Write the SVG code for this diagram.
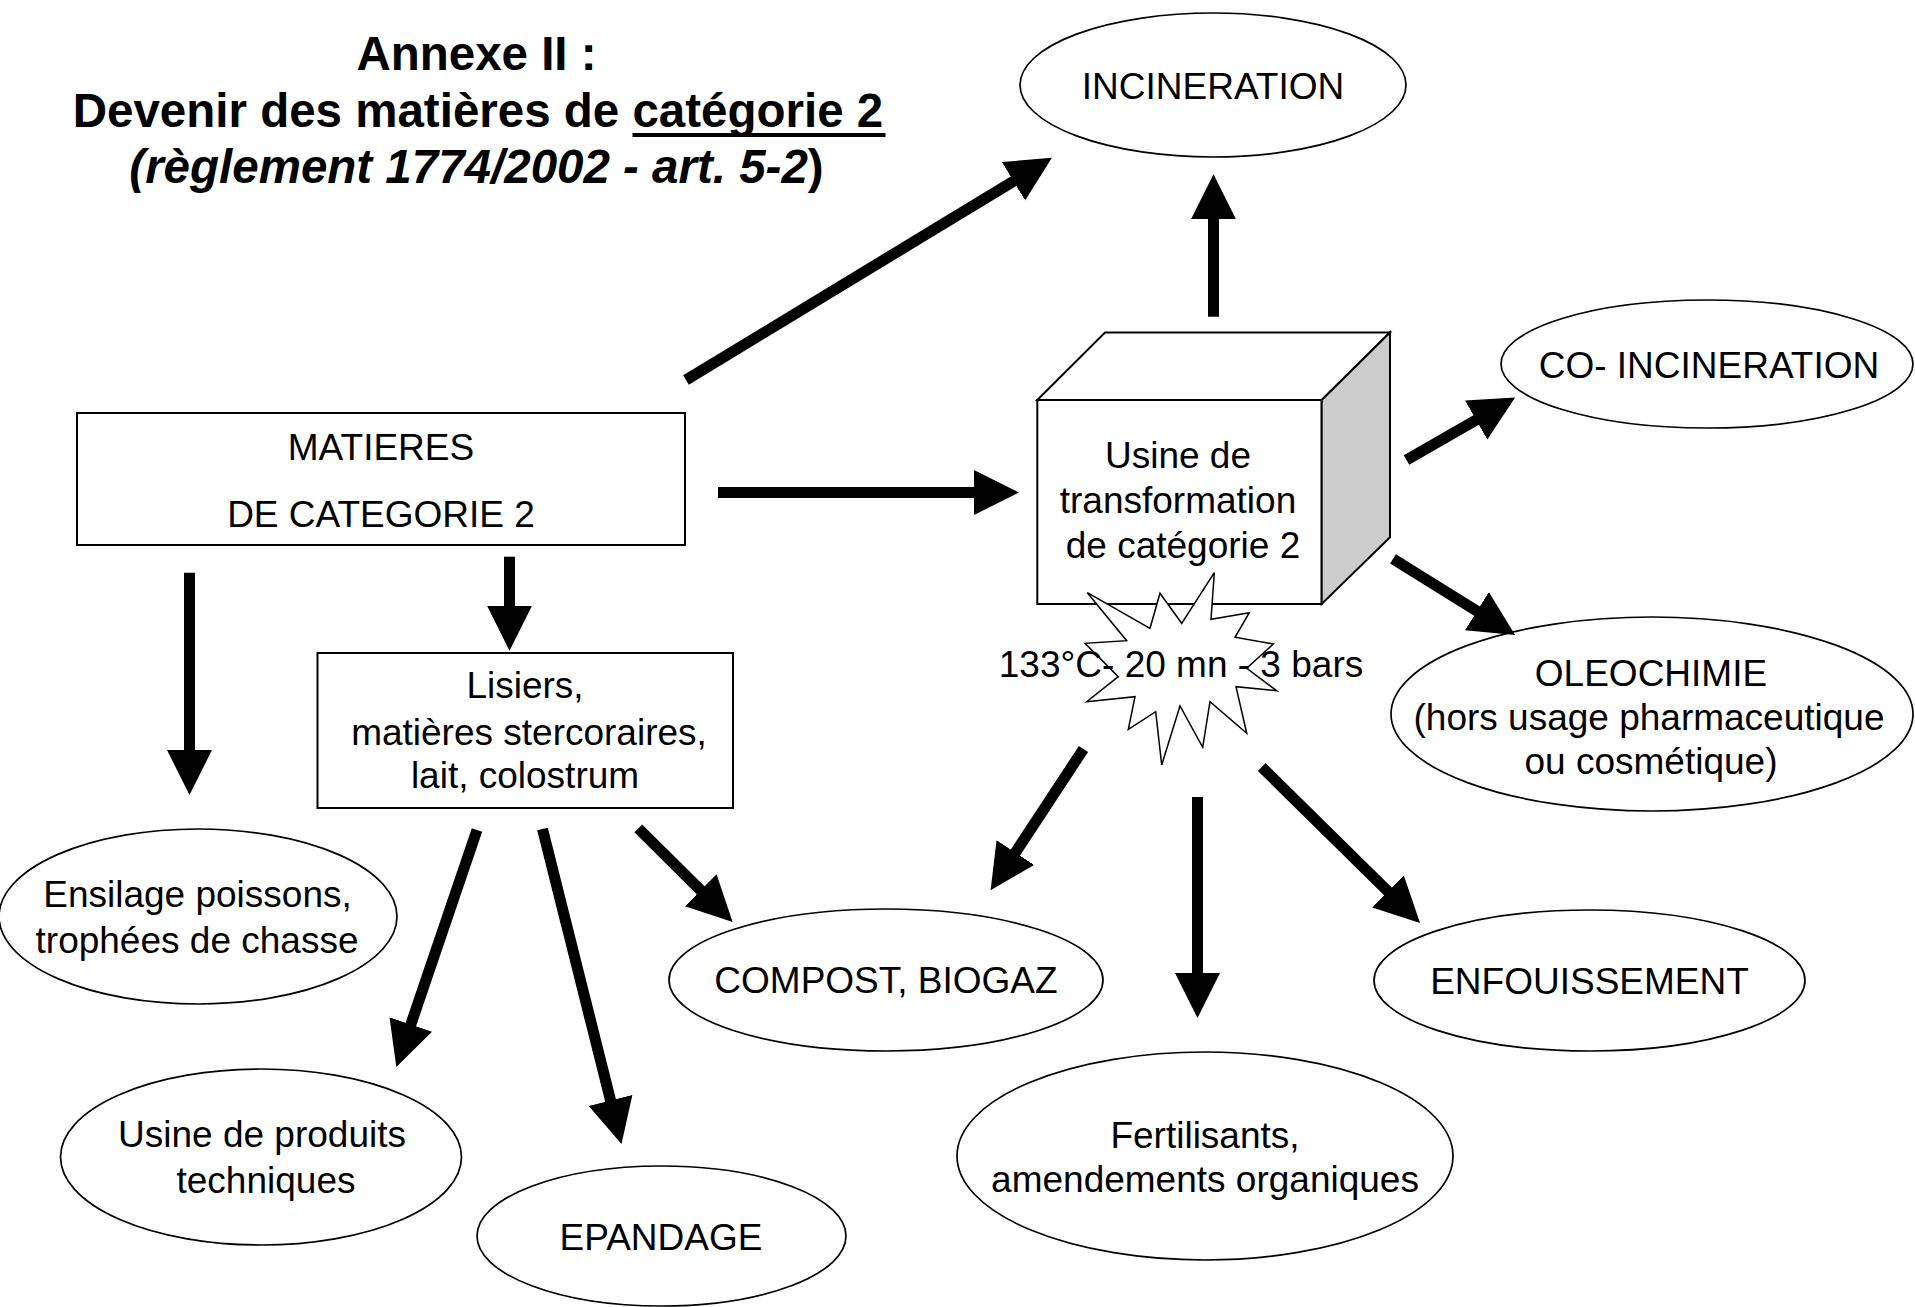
<svg xmlns="http://www.w3.org/2000/svg" width="1915" height="1307" viewBox="0 0 1915 1307">
<defs>
<style>
.t{font-family:"Liberation Sans",Arial,sans-serif;font-size:37px;fill:#000;text-anchor:middle}
.ttl{font-family:"Liberation Sans",Arial,sans-serif;font-size:47.5px;font-weight:bold;fill:#000;text-anchor:middle}
.n{fill:#fff;stroke:#000;stroke-width:2}
ellipse.n{stroke-width:1.7}
.c line{stroke:#000;stroke-width:11;fill:none;marker-end:url(#ah)}
</style>
<marker id="ah" markerUnits="userSpaceOnUse" markerWidth="46" markerHeight="46" refX="1" refY="22.5" orient="auto" viewBox="0 0 46 46">
<path d="M0,0 L45,22.5 L0,45 z" fill="#000"/>
</marker>
</defs>
<rect width="1915" height="1307" fill="#fff"/>

<g id="title">
<text class="ttl" x="476.5" y="70">Annexe II :</text>
<text class="ttl" x="478" y="127">Devenir des matières de catégorie 2</text>
<rect x="632.5" y="133" width="253" height="4" fill="#000"/>
<text class="ttl" x="476.5" y="183"><tspan font-style="italic">(règlement 1774/2002 - art. 5-2</tspan>)</text>
</g>

<g id="incineration">
<ellipse class="n" cx="1213" cy="85" rx="193" ry="72"/>
<text class="t" x="1213" y="99">INCINERATION</text>
</g>

<g id="matieres">
<rect class="n" x="77" y="413" width="608" height="132"/>
<text class="t" x="381" y="460">MATIERES</text>
<text class="t" x="381" y="527">DE CATEGORIE 2</text>
</g>

<g id="usine-transformation">
<rect class="n" x="1037.3" y="400" width="284.4" height="204"/>
<polygon class="n" points="1037.3,400 1105,332.5 1390,332.5 1321.7,400"/>
<polygon points="1321.7,400 1390,332.5 1390,537.3 1321.7,604" fill="#ccc" stroke="#000" stroke-width="2"/>
<text class="t" x="1178" y="468">Usine de</text>
<text class="t" x="1178" y="513">transformation</text>
<text class="t" x="1183" y="558">de catégorie 2</text>
</g>

<g id="sterilisation">
<polygon fill="#fff" stroke="#000" stroke-width="1.5" points="1214.3,572.7 1211,619.3 1249.3,612.7 1235,637.3 1273.3,644 1246.7,668.3 1276.7,690.7 1236,686.7 1246.7,733.3 1210,701.7 1202.7,747.3 1180,706 1161.7,765 1155.7,711.7 1128.3,729.3 1135,696.7 1086.7,701.7 1118.3,676.7 1085,643.3 1126.7,640.7 1087.3,592.7 1150,628.3 1160,593.3 1181.7,623.3"/>
<text class="t" x="1181" y="677">133°C- 20 mn - 3 bars</text>
</g>

<g id="co-incineration">
<ellipse class="n" cx="1707" cy="364" rx="206" ry="64"/>
<text class="t" x="1709" y="378">CO- INCINERATION</text>
</g>

<g id="oleochimie">
<ellipse class="n" cx="1652" cy="714" rx="261" ry="97"/>
<text class="t" x="1651" y="686">OLEOCHIMIE</text>
<text class="t" x="1649" y="730">(hors usage pharmaceutique</text>
<text class="t" x="1651" y="774">ou cosmétique)</text>
</g>

<g id="lisiers">
<rect class="n" x="317.5" y="653" width="415.5" height="155"/>
<text class="t" x="525" y="698">Lisiers,</text>
<text class="t" x="529" y="745">matières stercoraires,</text>
<text class="t" x="525" y="788">lait, colostrum</text>
</g>

<g id="ensilage">
<ellipse class="n" cx="198" cy="916.5" rx="199" ry="87.5"/>
<text class="t" x="197.5" y="907">Ensilage poissons,</text>
<text class="t" x="197" y="953">trophées de chasse</text>
</g>

<g id="produits-techniques">
<ellipse class="n" cx="261" cy="1157" rx="200.5" ry="88"/>
<text class="t" x="262" y="1147">Usine de produits</text>
<text class="t" x="266" y="1193">techniques</text>
</g>

<g id="epandage">
<ellipse class="n" cx="661.5" cy="1236" rx="184.5" ry="70"/>
<text class="t" x="661" y="1250">EPANDAGE</text>
</g>

<g id="compost">
<ellipse class="n" cx="886" cy="980" rx="217" ry="71"/>
<text class="t" x="886" y="993">COMPOST, BIOGAZ</text>
</g>

<g id="fertilisants">
<ellipse class="n" cx="1205" cy="1156" rx="248" ry="104"/>
<text class="t" x="1205" y="1148">Fertilisants,</text>
<text class="t" x="1205" y="1192">amendements organiques</text>
</g>

<g id="enfouissement">
<ellipse class="n" cx="1589.5" cy="980.5" rx="215.5" ry="70.5"/>
<text class="t" x="1589.5" y="994">ENFOUISSEMENT</text>
</g>

<g id="connectors" class="c">
<line x1="686" y1="380" x2="1014.3" y2="180.7"/>
<line x1="718" y1="492.5" x2="975" y2="492.5"/>
<line x1="1213.5" y1="316.7" x2="1213.5" y2="218.3"/>
<line x1="1406.5" y1="460" x2="1477" y2="419.5"/>
<line x1="1393" y1="558.8" x2="1477.8" y2="611.7"/>
<line x1="509.5" y1="556.7" x2="509.5" y2="606.7"/>
<line x1="189.5" y1="572.7" x2="189.5" y2="751"/>
<line x1="477" y1="830" x2="410.5" y2="1025.4"/>
<line x1="542.5" y1="829" x2="610.8" y2="1101.4"/>
<line x1="638.3" y1="828.3" x2="701.4" y2="891"/>
<line x1="1083.5" y1="749" x2="1014.8" y2="853.4"/>
<line x1="1197.5" y1="797" x2="1197.5" y2="974"/>
<line x1="1261.7" y1="767" x2="1388.7" y2="892.1"/>
</g>
</svg>
